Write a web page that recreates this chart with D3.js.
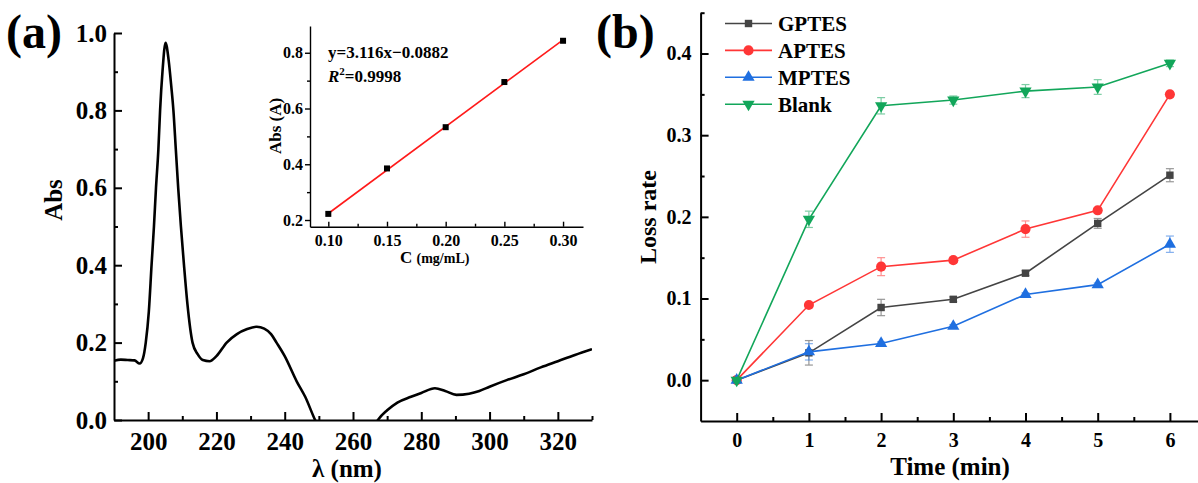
<!DOCTYPE html>
<html>
<head>
<meta charset="utf-8">
<script src="https://cdn.jsdelivr.net/npm/d3@7"></script>
<style>
  body { margin: 0; background: #fff; }
  svg text { font-family: "Liberation Serif", "Times New Roman", serif !important; font-weight: bold; fill: #000; }
</style>
</head>
<body>
<svg width="1198" height="483"></svg>
<script>
// (a) UV spectrum
const wavelength = [190,192,194,196,197.5,198.5,199.3,200.2,201,201.7,202.3,203,203.5,204.2,205.1,206,206.8,207.4,208.1,208.8,209.6,210.5,211.5,213,214.5,216,218,220,223,226,229,231.8,234,236,237.6,240,243.5,246,248.9,252,256,260,264,267.3,270,273,277,280,284,287,290.3,294,297,300,305,310,315,320,325,330];
const absValues = [0.153,0.156,0.155,0.154,0.146,0.16,0.2,0.28,0.4,0.5,0.6,0.7,0.8,0.9,0.975,0.93,0.86,0.8,0.7,0.6,0.5,0.4,0.3,0.2,0.17,0.155,0.152,0.165,0.2,0.222,0.235,0.241,0.236,0.222,0.2,0.165,0.1,0.06,0,-0.05,-0.09,-0.1,-0.06,0,0.025,0.045,0.06,0.07,0.082,0.075,0.065,0.068,0.075,0.086,0.103,0.118,0.136,0.152,0.168,0.183];

// inset calibration
const concentration = [0.10, 0.15, 0.20, 0.25, 0.30];
const absCal = [0.222, 0.385, 0.533, 0.695, 0.843];
const fitSlope = 3.116, fitIntercept = -0.0882;

// (b) loss rate
const times = [0, 1, 2, 3, 4, 5, 6];
const seriesNames = ["GPTES", "APTES", "MPTES", "Blank"];
const gptes = [0, 0.0335, 0.089, 0.099, 0.131, 0.192, 0.251];
const aptes = [0, 0.092, 0.139, 0.147, 0.185, 0.208, 0.350];
const mptes = [0, 0.0347, 0.045, 0.066, 0.105, 0.117, 0.1665];
const blank = [0, 0.197, 0.336, 0.343, 0.354, 0.359, 0.388];
const gptesErr = [0.002, 0.015, 0.010, 0.003, 0.003, 0.006, 0.008];
const aptesErr = [0.002, 0.003, 0.011, 0.003, 0.010, 0.003, 0.003];
const mptesErr = [0.002, 0.010, 0.002, 0.002, 0.002, 0.002, 0.010];
const blankErr = [0.002, 0.010, 0.010, 0.005, 0.008, 0.009, 0.004];
const seriesColors = ["#444444", "#ff3636", "#1f6fe0", "#12a65a"];

const FONT = '"Liberation Serif", "Times New Roman", serif';
const svg = d3.select("svg");

function styleAxis(g, w) {
  g.attr("font-family", FONT).attr("font-weight", "bold");
  g.selectAll("path.domain").attr("stroke", "#000").attr("stroke-width", w);
  g.selectAll(".tick line").attr("stroke", "#000").attr("stroke-width", w);
  g.selectAll(".tick text").attr("font-family", FONT).attr("font-weight", "bold").attr("fill", "#000");
}

// ---------- panel (a) ----------
const xa = d3.scaleLinear().domain([190, 330]).range([114, 592]);
const ya = d3.scaleLinear().domain([0, 1.0]).range([420, 33]);

svg.append("clipPath").attr("id", "clipA")
  .append("rect").attr("x", 114).attr("y", 0).attr("width", 478).attr("height", 420);

svg.append("path")
  .datum(wavelength.map((w, i) => [w, absValues[i]]))
  .attr("clip-path", "url(#clipA)")
  .attr("fill", "none").attr("stroke", "#000").attr("stroke-width", 2.6)
  .attr("d", d3.line().x(d => xa(d[0])).y(d => ya(d[1])).curve(d3.curveMonotoneX));

let g = svg.append("g").attr("transform", "translate(0,420)")
  .call(d3.axisBottom(xa).tickValues([210,230,250,270,290,310,330]).tickSize(-4).tickFormat(""));
g.select(".domain").remove(); styleAxis(g, 2);
g = svg.append("g").attr("transform", "translate(0,420)")
  .call(d3.axisBottom(xa).tickValues([200,220,240,260,280,300,320]).tickSizeInner(-8).tickSizeOuter(0).tickPadding(12));
g.selectAll(".tick text").attr("font-size", 25);
styleAxis(g, 2);

g = svg.append("g").attr("transform", "translate(114,0)")
  .call(d3.axisLeft(ya).tickValues([0.1,0.3,0.5,0.7,0.9]).tickSize(-4).tickFormat(""));
g.select(".domain").remove(); styleAxis(g, 2);
g = svg.append("g").attr("transform", "translate(114,0)")
  .call(d3.axisLeft(ya).tickValues([0,0.2,0.4,0.6,0.8,1.0]).tickSizeInner(-8).tickSizeOuter(0).tickPadding(7).tickFormat(d3.format(".1f")));
g.selectAll(".tick text").attr("font-size", 25);
styleAxis(g, 2);

svg.append("text").attr("transform", "translate(62,200) rotate(-90)").attr("text-anchor", "middle")
  .attr("font-size", 25).text("Abs");
svg.append("text").attr("x", 347).attr("y", 477).attr("text-anchor", "middle").attr("font-size", 25).text("λ (nm)");
svg.append("text").attr("x", 6).attr("y", 48).attr("font-size", 48).text("(a)");

// ---------- inset ----------
const xi = d3.scaleLinear().domain([0.0844, 0.317]).range([310, 583]);
const yi = d3.scaleLinear().domain([0.176, 0.896]).range([226.7, 26]);

g = svg.append("g").attr("transform", "translate(0,226.7)")
  .call(d3.axisBottom(xi).tickValues([0.125,0.175,0.225,0.275]).tickSize(-3).tickFormat(""));
g.select(".domain").remove(); styleAxis(g, 1.4);
g = svg.append("g").attr("transform", "translate(0,226.7)")
  .call(d3.axisBottom(xi).tickValues(concentration).tickSizeInner(-5).tickSizeOuter(0).tickPadding(8).tickFormat(d3.format(".2f")));
g.selectAll(".tick text").attr("font-size", 16);
styleAxis(g, 1.4);

g = svg.append("g").attr("transform", "translate(310,0)")
  .call(d3.axisLeft(yi).tickValues([0.3,0.5,0.7]).tickSize(3).tickFormat(""));
g.select(".domain").remove(); styleAxis(g, 1.4);
g = svg.append("g").attr("transform", "translate(310,0)")
  .call(d3.axisLeft(yi).tickValues([0.2,0.4,0.6,0.8]).tickSizeInner(5).tickSizeOuter(0).tickPadding(2).tickFormat(d3.format(".1f")));
g.selectAll(".tick text").attr("font-size", 16);
styleAxis(g, 1.4);

svg.append("line")
  .attr("x1", xi(0.10)).attr("y1", yi(fitSlope * 0.10 + fitIntercept))
  .attr("x2", xi(0.30)).attr("y2", yi(fitSlope * 0.30 + fitIntercept))
  .attr("stroke", "#ff1a1a").attr("stroke-width", 1.6);
svg.append("g").selectAll("rect").data(concentration).enter().append("rect")
  .attr("x", d => xi(d) - 3).attr("y", (d, i) => yi(absCal[i]) - 3)
  .attr("width", 6).attr("height", 6).attr("fill", "#000");

svg.append("text").attr("x", 328).attr("y", 58).attr("font-size", 17).text("y=3.116x\u22120.0882");
const r2 = svg.append("text").attr("x", 328).attr("y", 82).attr("font-size", 17);
r2.append("tspan").attr("font-style", "italic").text("R");
r2.append("tspan").attr("font-size", 11).attr("dy", -7).text("2");
r2.append("tspan").attr("dy", 7).text("=0.9998");
svg.append("text").attr("transform", "translate(281,126) rotate(-90)").attr("text-anchor", "middle")
  .attr("font-size", 17).text("Abs (A)");
const cl = svg.append("text").attr("x", 400).attr("y", 263).attr("font-size", 17);
cl.append("tspan").text("C ");
cl.append("tspan").attr("font-size", 14).text("(mg/mL)");

// ---------- panel (b) ----------
const xb = d3.scaleLinear().domain([-0.5, 6.5]).range([700.6, 1206]);
const yb = d3.scaleLinear().domain([-0.05, 0.45]).range([421, 12.7]);

g = svg.append("g").attr("transform", "translate(0,421)")
  .call(d3.axisBottom(xb).tickValues([0.5,1.5,2.5,3.5,4.5,5.5]).tickSize(-4).tickFormat(""));
g.select(".domain").remove(); styleAxis(g, 2);
g = svg.append("g").attr("transform", "translate(0,421)")
  .call(d3.axisBottom(xb).tickValues(times).tickSizeInner(-8).tickSizeOuter(0).tickPadding(12).tickFormat(d3.format("d")));
g.selectAll(".tick text").attr("font-size", 20);
styleAxis(g, 2);

g = svg.append("g").attr("transform", "translate(700.6,0)")
  .call(d3.axisLeft(yb).tickValues([0.05,0.15,0.25,0.35,0.45]).tickSize(-4).tickFormat(""));
g.select(".domain").remove(); styleAxis(g, 2);
g = svg.append("g").attr("transform", "translate(700.6,0)")
  .call(d3.axisLeft(yb).tickValues([0,0.1,0.2,0.3,0.4]).tickSizeInner(-8).tickSizeOuter(0).tickPadding(9).tickFormat(d3.format(".1f")));
g.selectAll(".tick text").attr("font-size", 20);
styleAxis(g, 2);

svg.append("text").attr("transform", "translate(656,217) rotate(-90)").attr("text-anchor", "middle")
  .attr("font-size", 24).text("Loss rate");
svg.append("text").attr("x", 950).attr("y", 475).attr("text-anchor", "middle").attr("font-size", 25).text("Time (min)");
svg.append("text").attr("x", 596).attr("y", 48).attr("font-size", 48).text("(b)");

const seriesValues = [gptes, aptes, mptes, blank];
const seriesErrors = [gptesErr, aptesErr, mptesErr, blankErr];
const symbols = [
  d3.symbol().type(d3.symbolSquare).size(55),
  d3.symbol().type(d3.symbolCircle).size(80),
  d3.symbol().type(d3.symbolTriangle).size(65),
  d3.symbol().type(d3.symbolTriangle).size(65)
];
const lineB = d3.line().x(d => xb(d[0])).y(d => yb(d[1]));

seriesNames.forEach((name, s) => {
  const pts = times.map((t, i) => [t, seriesValues[s][i], seriesErrors[s][i]]);
  const col = seriesColors[s];
  const sg = svg.append("g");
  sg.append("path").datum(pts).attr("fill", "none").attr("stroke", col).attr("stroke-width", 1.6).attr("d", lineB);
  const eb = sg.append("g").attr("stroke", col).attr("stroke-width", 1.2).attr("opacity", 0.55);
  pts.forEach(p => {
    const x = xb(p[0]), y0 = yb(p[1] - p[2]), y1 = yb(p[1] + p[2]);
    eb.append("line").attr("x1", x).attr("x2", x).attr("y1", y0).attr("y2", y1);
    eb.append("line").attr("x1", x - 4).attr("x2", x + 4).attr("y1", y0).attr("y2", y0);
    eb.append("line").attr("x1", x - 4).attr("x2", x + 4).attr("y1", y1).attr("y2", y1);
  });
  sg.selectAll(".m").data(pts).enter().append("path")
    .attr("d", symbols[s])
    .attr("transform", d => `translate(${xb(d[0])},${yb(d[1])})` + (s === 3 ? " rotate(180)" : ""))
    .attr("fill", col);

  // legend
  const ly = 23.5 + s * 26.9;
  svg.append("line").attr("x1", 725).attr("x2", 772).attr("y1", ly).attr("y2", ly)
    .attr("stroke", col).attr("stroke-width", 1.6);
  svg.append("path").attr("d", symbols[s])
    .attr("transform", `translate(748.5,${ly})` + (s === 3 ? " rotate(180)" : "")).attr("fill", col);
  svg.append("text").attr("x", 778).attr("y", ly + 7.5).attr("font-size", 21).text(name);
});
</script>
</body>
</html>
